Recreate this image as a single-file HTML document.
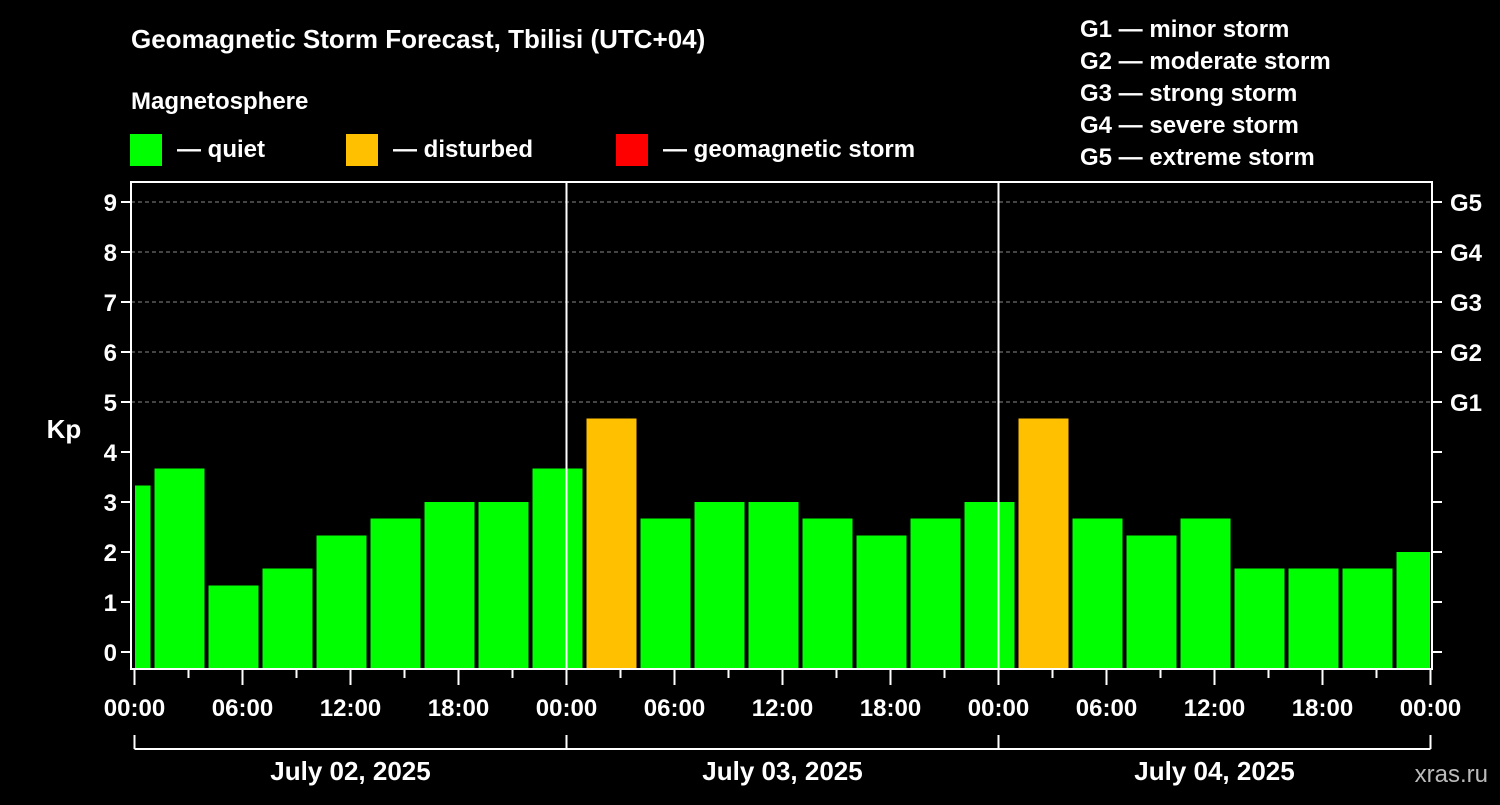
<!DOCTYPE html>
<html><head><meta charset="utf-8"><style>
body{margin:0;background:#000;width:1500px;height:800px;overflow:hidden}
svg text{font-family:"Liberation Sans",sans-serif;font-weight:bold;fill:#fff}
</style></head><body>
<svg id="c" width="1500" height="800">
<text x="131" y="48" font-size="26">Geomagnetic Storm Forecast, Tbilisi (UTC+04)</text>
<text x="131" y="109" font-size="24">Magnetosphere</text>
<rect x="130" y="134" width="32" height="32" fill="#00ff00"/>
<text x="177" y="157" font-size="24">— quiet</text>
<rect x="346" y="134" width="32" height="32" fill="#ffc000"/>
<text x="393" y="157" font-size="24">— disturbed</text>
<rect x="616" y="134" width="32" height="32" fill="#ff0000"/>
<text x="663" y="157" font-size="24">— geomagnetic storm</text>
<g font-size="24">
<text x="1080" y="37">G1 — minor storm</text>
<text x="1080" y="69">G2 — moderate storm</text>
<text x="1080" y="101">G3 — strong storm</text>
<text x="1080" y="133">G4 — severe storm</text>
<text x="1080" y="165">G5 — extreme storm</text>
</g>
<text x="64" y="438" font-size="26" text-anchor="middle">Kp</text>
<text x="1488" y="782" font-size="24" text-anchor="end" fill="#bbb" style="fill:#bbb;font-weight:normal">xras.ru</text>
<g id="grid"></g><g id="bars"></g><g id="axes"></g>
</svg>
<script>
const values=[3.33,3.67,1.33,1.67,2.33,2.67,3,3,3.67,4.67,2.67,3,3,2.67,2.33,2.67,3,4.67,2.67,2.33,2.67,1.67,1.67,1.67,2.0];
const startHour=-2;
const stepHours=3;
const dates=["July 02, 2025","July 03, 2025","July 04, 2025"];
const gLabels=["G1","G2","G3","G4","G5"];
const NS="http://www.w3.org/2000/svg";
const X0=134.5,PX_H=432/24,L=131,R=1432,T=182,B=669;
const x=h=>X0+h*PX_H, y=v=>652-50*v;
function mk(tag,attrs,parent,txt){const e=document.createElementNS(NS,tag);for(const k in attrs)e.setAttribute(k,attrs[k]);if(txt!==undefined)e.textContent=txt;parent.appendChild(e);return e;}
const grid=document.getElementById('grid'),bars=document.getElementById('bars'),axes=document.getElementById('axes');
for(let v=5;v<=9;v++){const l=mk('line',{x1:L,x2:R,y1:y(v),y2:y(v),stroke:'#888','stroke-dasharray':'4,3','stroke-width':1},grid);

}
values.forEach((v,i)=>{let a=x(startHour+i*stepHours)+2,b=x(startHour+(i+1)*stepHours)-2;a=Math.max(a,L+4);b=Math.min(b,R-2);
const r=mk('rect',{x:a,y:y(v),width:b-a,height:B-y(v),fill:v>=5?'#ff0000':(v>=4?'#ffc000':'#00ff00')},bars);

});
for(let d=1;d<3;d++){const l=mk('line',{x1:x(24*d),x2:x(24*d),y1:T,y2:B,stroke:'#fff','stroke-width':2},axes);

}
const fr=mk('rect',{x:L,y:T,width:R-L,height:B-T,fill:'none',stroke:'#fff','stroke-width':2},axes);


for(let v=0;v<=9;v++){mk('line',{x1:L-10,x2:L,y1:y(v),y2:y(v),stroke:'#fff','stroke-width':2},axes);
mk('line',{x1:R,x2:R+10,y1:y(v),y2:y(v),stroke:'#fff','stroke-width':2},axes);
const t=mk('text',{x:L-14,y:y(v)+9,'font-size':24,'text-anchor':'end'},axes,String(v));


if(v>=5){const g=mk('text',{x:R+18,y:y(v)+9,'font-size':24},axes,gLabels[v-5]);

}}
for(let h=0;h<=72;h+=3){const major=h%6==0;mk('line',{x1:x(h),x2:x(h),y1:B,y2:B+(major?16:9),stroke:'#fff','stroke-width':2},axes);
if(major){const t=mk('text',{x:x(h),y:716,'font-size':24,'text-anchor':'middle'},axes,String(h%24).padStart(2,'0')+':00');

}}
mk('line',{x1:x(0),x2:x(72),y1:749,y2:749,stroke:'#fff','stroke-width':2},axes);
for(let d=0;d<=3;d++)mk('line',{x1:x(24*d),x2:x(24*d),y1:735,y2:749,stroke:'#fff','stroke-width':2},axes);
dates.forEach((s,d)=>{const t=mk('text',{x:x(24*d+12),y:780,'font-size':26,'text-anchor':'middle'},axes,s);

});
</script>
</body></html>
